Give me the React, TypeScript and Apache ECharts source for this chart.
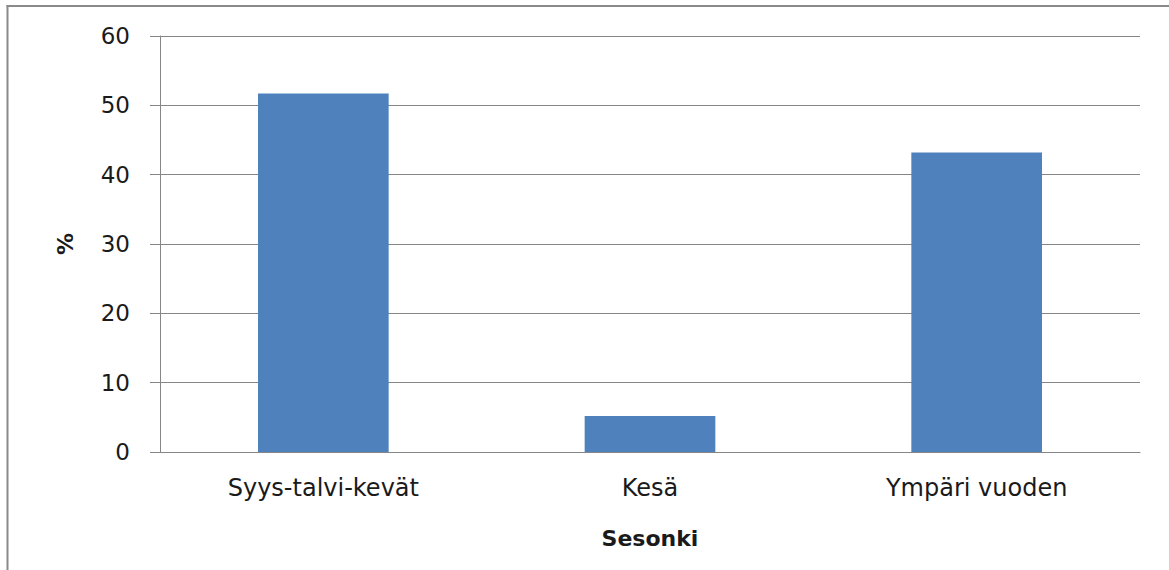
import React, { useEffect, useRef } from "react";
import * as echarts from "echarts";

const categories = ["Syys-talvi-kevät", "Kesä", "Ympäri vuoden"];
const values = [51.7, 5.2, 43.2];
const yTicks = { min: 0, max: 60, interval: 10 };

export default function App() {
  const ref = useRef<HTMLDivElement>(null);
  useEffect(() => {
    if (!ref.current) return;
    const chart = echarts.init(ref.current, null, { renderer: "svg" });
    const font = "'DejaVu Sans', sans-serif";
    chart.setOption({
      animation: false,
      backgroundColor: "#ffffff",
      textStyle: { fontFamily: font },
      graphic: [
        { type: "line", shape: { x1: 7.5, y1: 5, x2: 7.5, y2: 570 }, style: { stroke: "#8a8a8a", lineWidth: 2 } },
        { type: "line", shape: { x1: 6.5, y1: 6, x2: 1169, y2: 6 }, style: { stroke: "#8a8a8a", lineWidth: 2 } },
      ],
      grid: { left: 160, right: 29, top: 36, bottom: 118, containLabel: false },
      xAxis: {
        type: "category",
        data: categories,
        name: "Sesonki",
        nameLocation: "middle",
        nameGap: 75,
        nameTextStyle: { fontSize: 22, fontWeight: "bold", color: "#1a1a1a", fontFamily: font },
        axisLine: { lineStyle: { color: "#868686", width: 1 } },
        axisTick: { show: false },
        axisLabel: { fontSize: 24, color: "#1a1a1a", margin: 24, fontFamily: font },
      },
      yAxis: {
        type: "value",
        min: yTicks.min,
        max: yTicks.max,
        interval: yTicks.interval,
        name: "%",
        nameLocation: "middle",
        nameGap: 84,
        nameRotate: 90,
        nameTextStyle: { fontSize: 22, fontWeight: "bold", color: "#1a1a1a", fontFamily: font },
        axisLine: { show: true, lineStyle: { color: "#868686", width: 1 } },
        axisTick: { show: true, length: 10, lineStyle: { color: "#868686" } },
        axisLabel: { fontSize: 23, color: "#1a1a1a", margin: 30, fontFamily: font },
        splitLine: { show: true, lineStyle: { color: "#868686", width: 1 } },
      },
      series: [
        {
          type: "bar",
          data: values,
          barWidth: "40%",
          itemStyle: { color: "#4F81BD" },
        },
      ],
    });
    return () => chart.dispose();
  }, []);
  return (
    <div
      ref={ref}
      style={{ position: "fixed", left: 0, top: 0, width: 1169, height: 570 }}
    />
  );
}
